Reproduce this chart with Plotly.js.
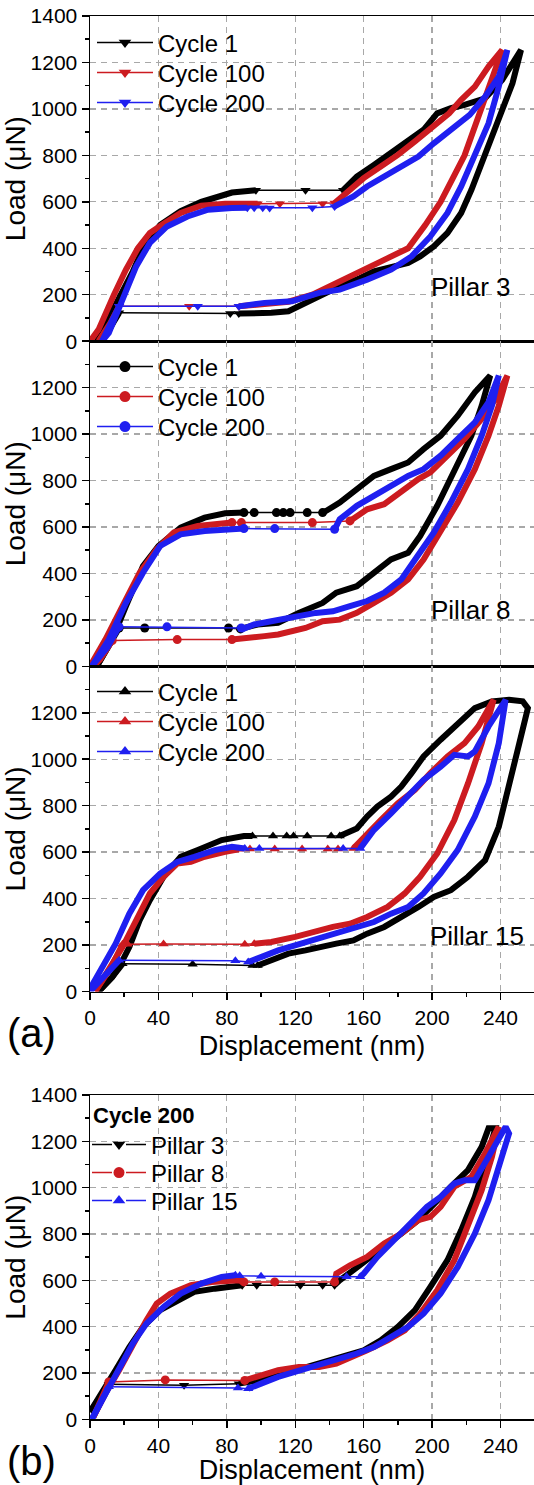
<!DOCTYPE html>
<html><head><meta charset="utf-8">
<script src="https://cdn.plot.ly/plotly-3.0.1.min.js"></script>
<style>html,body{margin:0;padding:0;overflow:hidden;background:#fff}</style>
</head><body><div id="chart" style="width:534px;height:1485px"></div>
<script>
// ---------- DATA ----------
// Panel (a) top: Pillar 3
const p3c1_dense_x = [4,10,18,25,31,41,53,65,83,97, null, 148,156,166,176,186,195,203,211,219,231,241,252,247,241,235,229,223,217,209,201,193,186,176,166,158,146,134,122,116,106,98,87, null, 17,12,6];
const p3c1_dense_y = [0,80,200,300,400,500,560,600,640,650, null, 650,709,759,809,860,910,981,1003,1017,1046,1125,1254,1110,996,867,752,652,552,466,408,365,337,322,301,272,236,193,150,129,122,122,119, null, 122,60,0];
const p3c1_sparse_x = [97,126,148, null, 87,82,17];
const p3c1_sparse_y = [650,650,650, null, 119,119,122];

const p3c100_dense_x = [0,5,14,21,28,35,43,53,65,79,98, null, 143,152,160,170,180,190,201,210,217,225,233,241,236,229,219,212,205,196,186,172,158,144,130,116,105,96,87, null, 17,12,5];
const p3c100_dense_y = [0,50,200,308,400,466,506,552,583,592,592, null, 595,652,702,752,802,860,924,981,1039,1096,1182,1254,1150,1000,800,700,600,500,400,350,300,250,200,170,160,152,150, null, 150,80,0];
const p3c100_sparse_x = [98,111,136,143, null, 87,58,17];
const p3c100_sparse_y = [592,592,592,595, null, 150,150,150];

const p3c200_dense_x = [7,11,19,27,35,45,57,69,83,92, null, 143,154,162,172,182,192,201,211,222,231,239,244,239,233,225,217,209,199,188,176,162,146,134,118,102,87, null, 17,12,7];
const p3c200_dense_y = [0,36,179,322,423,494,537,566,573,575, null, 580,623,666,709,752,795,852,910,974,1053,1139,1254,1096,938,795,666,552,451,365,308,265,222,208,172,165,150, null, 150,80,0];
const p3c200_sparse_x = [92,96,101,105,130,143, null, 87,63,17];
const p3c200_sparse_y = [575,575,575,573,575,580, null, 150,150,150];

// Panel (a) middle: Pillar 8
const p8c1_dense_x = [4,13,21,31,40,53,67,79,90, null, 136,138,146,156,166,176,186,195,205,215,225,234,229,223,213,203,193,186,176,166,156,144,136,122,110,98,88, null, 17,10,4];
const p8c1_dense_y = [0,115,259,432,518,597,640,659,662, null, 662,669,705,763,820,849,878,935,993,1079,1180,1252,1122,993,835,691,561,489,460,403,345,317,273,230,187,180,161, null, 165,80,0];
const p8c1_sparse_x = [90,96,109,113,117,127,136, null, 88,81,32,17];
const p8c1_sparse_y = [662,662,662,662,662,662,662, null, 161,165,165,165];

const p8c100_dense_x = [0,9,19,29,39,49,63,75,83, null, 152,162,172,182,192,199,209,219,229,237,244,239,233,225,215,205,195,186,176,166,156,146,136,126,110,102,83, null, 13,6,2];
const p8c100_dense_y = [0,115,259,403,504,576,604,616,619, null, 626,676,698,755,806,835,907,979,1065,1151,1252,1122,993,849,705,576,460,374,317,273,230,201,194,165,137,130,115, null, 111,30,0];
const p8c100_sparse_x = [83,88.5,130,152, null, 83,51,13];
const p8c100_sparse_y = [619,619,619,626, null, 115,115,111];

const p8c200_dense_x = [1,11,21,31,41,53,67,83,90, null, 143,146,156,166,176,186,195,205,215,225,233,239,235,229,221,211,201,192,182,172,162,152,142,132,120,106,96,88.5, null, 17,10,1];
const p8c200_dense_y = [0,115,273,403,518,568,583,590,593, null, 590,633,691,734,777,820,849,907,979,1050,1137,1252,1122,993,849,705,576,475,374,317,281,259,237,230,216,194,180,158, null, 170,80,0];
const p8c200_sparse_x = [90,108,143, null, 88.5,45,17];
const p8c200_sparse_y = [593,593,590, null, 165,170,170];

// Panel (a) bottom: Pillar 15
const p15c1_dense_x = [5,13,18,23,29,35,43,53,63,77,90,95, null, 146,156,162,168,176,182,188,195,205,215,225,235,245,253,256,251,245,239,231,221,211,201,192,182,172,162,154,144,136,126,116,106,98, null, 19,13,5];
const p15c1_dense_y = [0,62,119,191,306,393,494,580,609,652,669,669, null, 669,702,753,796,839,882,940,1012,1084,1156,1220,1249,1256,1249,1220,1069,882,709,565,494,436,407,364,321,278,249,220,206,191,177,163,134,112, null, 119,62,0];
const p15c1_sparse_x = [95,107,115,119,127,141,146, null, 98,95,60,19];
const p15c1_sparse_y = [669,669,669,669,669,669,669, null, 112,112,117,119];

const p15c100_dense_x = [3,11,19,27,35,43,51,59,67,79,87, null, 154,162,170,180,190,199,209,219,227,236,229,221,213,203,193,184,174,162,152,142,132,120,106,96, null, 19,12,3];
const p15c100_dense_y = [0,91,191,306,422,494,551,558,580,601,612, null, 616,681,738,810,868,940,1012,1069,1141,1256,1069,896,738,594,494,422,364,321,292,278,256,235,213,206, null, 203,100,0];
const p15c100_sparse_x = [87,93.5,108,124,139,145,154, null, 96,90.5,43,22,19];
const p15c100_sparse_y = [612,614,614,614,614,614,616, null, 206,203,205,203,203];

const p15c200_dense_x = [0,7,15,23,31,41,51,61,73,83,90.5, null, 158,166,176,186,195,205,213,221,225,233,243,239,233,225,215,205,195,186,176,166,156,146,136,122,110,100,92.5, null, 17,8,0];
const p15c200_dense_y = [12,105,206,335,436,508,558,580,609,623,616, null, 616,695,767,839,911,968,1019,1012,1033,1141,1256,1069,896,753,609,508,422,364,335,299,278,256,235,206,177,148,127, null, 134,60,0];
const p15c200_sparse_x = [90.5,99,148,158, null, 92.5,85,17];
const p15c200_sparse_y = [616,616,616,616, null, 127,132,134];

// Panel (b): Cycle 200 of each pillar
const b_p3_dense_x = [0,7,15,23,31,41,51,61,73,87,89, null, 143,146,154,162,172,182,192,201,211,221,229,233,237,231,225,217,209,199,190,180,170,160,150,140,126,110,98,87, null, 11,5,0];
const b_p3_dense_y = [32,111,212,312,399,471,514,550,564,579,579, null, 579,600,644,687,744,802,860,932,1004,1076,1176,1256,1256,1104,960,816,687,572,471,399,341,298,276,255,219,190,168,154, null, 151,80,32];
const b_p3_sparse_x = [89,97.5,123,136,143, null, 87,55,11];
const b_p3_sparse_y = [579,579,579,579,579, null, 154,147,151];

const b_p8_dense_x = [2,9,17,25,33,39,47,59,71,87,90, null, 143,144,152,162,172,182,192,199,205,213,223,231,239,235,229,221,213,203,193,184,174,162,152,144,134,122,110,100,90.5, null, 11,6,2];
const b_p8_dense_y = [10,111,212,327,428,500,543,579,593,600,593, null, 593,629,665,701,759,802,860,874,917,1004,1047,1148,1263,1133,989,831,687,557,456,384,341,298,262,240,226,226,212,190,168, null, 161,80,10];
const b_p8_sparse_x = [90,108,143, null, 90.5,44,11];
const b_p8_sparse_y = [593,593,593, null, 168,170,161];

const b_p15_dense_x = [1,9,17,25,33,43,53,65,77,85, null, 158,160,168,178,188,197,205,213,219,225,233,243,245,239,233,225,215,205,195,186,176,166,156,146,134,122,110,100,92.5, null, 11,5,1];
const b_p15_dense_y = [0,111,226,327,413,485,543,586,615,622, null, 615,629,701,773,845,917,960,1018,1032,1032,1133,1263,1234,1090,946,802,658,543,456,399,356,312,284,262,240,212,183,154,132, null, 140,60,0];
const b_p15_sparse_x = [85,87.5,100,150,158, null, 92.5,86.5,11];
const b_p15_sparse_y = [622,620,618,615,615, null, 132,135,140];

const cycleNames = ['Cycle 1', 'Cycle 100', 'Cycle 200'];
const pillarNames = ['Pillar 3', 'Pillar 8', 'Pillar 15'];
const xTickVals = [0, 40, 80, 120, 160, 200, 240];
const yTickValsFull = [0, 200, 400, 600, 800, 1000, 1200, 1400];
const yTickValsShort = [0, 200, 400, 600, 800, 1000, 1200];

// ---------- STYLE ----------
const FONT = 'Liberation Sans, Arial, Helvetica, sans-serif';
const BLACK = '#000000', RED = '#cc1b20', BLUE = '#1f1ff0';
const colors = [BLACK, RED, BLUE];

const H = 1485, W = 534, L = 90;
const pxToPaperY = px => 1 - px / H;
const pxToPaperX = px => (px - L) / (W - L);

const traces = [];
function addCurve(dx, dy, sx, sy, color, symbol, ax) {
  traces.push({x: dx, y: dy, type: 'scatter', mode: 'lines', xaxis: 'x' + ax, yaxis: 'y' + ax,
    line: {color: color, width: 6}, connectgaps: false, showlegend: false, hoverinfo: 'skip'});
  traces.push({x: sx, y: sy, type: 'scatter', mode: 'lines+markers', xaxis: 'x' + ax, yaxis: 'y' + ax,
    line: {color: color, width: 1.5}, marker: {color: color, size: 9, symbol: symbol},
    connectgaps: false, showlegend: false, hoverinfo: 'skip'});
}

const layoutLegends = {};
let legendCount = 0;
function addLegend(name, color, symbol, ax, leftPx, centerPx, itemW, dash) {
  legendCount += 1;
  const id = legendCount === 1 ? 'legend' : 'legend' + legendCount;
  traces.push({x: [null], y: [null], type: 'scatter', mode: 'lines+markers', xaxis: 'x' + ax, yaxis: 'y' + ax,
    name: name, legend: id, line: {color: color, width: 1.5, dash: dash || 'solid'},
    marker: {color: color, size: 11, symbol: symbol}, showlegend: true});
  layoutLegends[id] = {
    x: pxToPaperX(leftPx), xanchor: 'left', y: pxToPaperY(centerPx), yanchor: 'middle',
    bgcolor: 'rgba(0,0,0,0)', borderwidth: 0, itemwidth: itemW,
    font: {family: FONT, size: 24, color: '#000'}, itemclick: false, itemdoubleclick: false
  };
}

const panels = [
  [[p3c1_dense_x, p3c1_dense_y, p3c1_sparse_x, p3c1_sparse_y],
   [p3c100_dense_x, p3c100_dense_y, p3c100_sparse_x, p3c100_sparse_y],
   [p3c200_dense_x, p3c200_dense_y, p3c200_sparse_x, p3c200_sparse_y]],
  [[p8c1_dense_x, p8c1_dense_y, p8c1_sparse_x, p8c1_sparse_y],
   [p8c100_dense_x, p8c100_dense_y, p8c100_sparse_x, p8c100_sparse_y],
   [p8c200_dense_x, p8c200_dense_y, p8c200_sparse_x, p8c200_sparse_y]],
  [[p15c1_dense_x, p15c1_dense_y, p15c1_sparse_x, p15c1_sparse_y],
   [p15c100_dense_x, p15c100_dense_y, p15c100_sparse_x, p15c100_sparse_y],
   [p15c200_dense_x, p15c200_dense_y, p15c200_sparse_x, p15c200_sparse_y]],
  [[b_p3_dense_x, b_p3_dense_y, b_p3_sparse_x, b_p3_sparse_y],
   [b_p8_dense_x, b_p8_dense_y, b_p8_sparse_x, b_p8_sparse_y],
   [b_p15_dense_x, b_p15_dense_y, b_p15_sparse_x, b_p15_sparse_y]]
];
const panelSymbols = [
  ['triangle-down', 'triangle-down', 'triangle-down'],
  ['circle', 'circle', 'circle'],
  ['triangle-up', 'triangle-up', 'triangle-up'],
  ['triangle-down', 'circle', 'triangle-up']
];
// legend row centres (px) for each panel
const legendRows = [[43, 73, 103], [367, 397, 427], [692, 722, 752], [1145, 1173, 1201]];

panels.forEach((curves, p) => {
  const ax = p === 0 ? '' : String(p + 1);
  curves.forEach((c, i) => addCurve(c[0], c[1], c[2], c[3], colors[i], panelSymbols[p][i], ax));
  const names = p < 3 ? cycleNames : pillarNames;
  names.forEach((n, i) => {
    if (p < 3) addLegend(n, colors[i], panelSymbols[p][i], ax, 92, legendRows[p][i], 56, 'solid');
    else addLegend(n, colors[i], panelSymbols[p][i], ax, 87, legendRows[p][i], 54, '20px,14px');
  });
});

// ---------- LAYOUT ----------
const xRange = [0, (W - L) / 1.7104];
const panelPx = [[16, 341.2], [341.2, 666.3], [666.3, 991.5], [1095, 1419.3]];

function xAxis(p, showLabels) {
  const a = {
    range: xRange, domain: [0, 1], anchor: 'y' + (p === 0 ? '' : p + 1),
    showline: true, linecolor: '#000', linewidth: 1.5, mirror: true,
    showgrid: true, gridcolor: '#a8a8a8', gridwidth: 1.3, griddash: '6px,5px',
    zeroline: false, tickvals: xTickVals, fixedrange: true,
    tickfont: {family: FONT, size: 21, color: '#000'}
  };
  if (showLabels) {
    Object.assign(a, {ticks: 'outside', ticklen: 7, tickwidth: 1.5, tickcolor: '#000', showticklabels: true,
      minor: {dtick: 20, tick0: 0, ticks: 'outside', ticklen: 4, tickwidth: 1.5, tickcolor: '#000', showgrid: false},
      title: {text: 'Displacement (nm)', font: {family: FONT, size: 27, color: '#000'}, standoff: 8}});
  } else {
    Object.assign(a, {ticks: '', showticklabels: false});
  }
  return a;
}
function yAxis(p, vals) {
  return {
    range: [0, 1400], domain: [pxToPaperY(panelPx[p][1]), pxToPaperY(panelPx[p][0])],
    anchor: 'x' + (p === 0 ? '' : p + 1),
    showline: true, linecolor: '#000', linewidth: 1.5, mirror: false,
    showgrid: true, gridcolor: '#a8a8a8', gridwidth: 1.3, griddash: '6px,5px',
    zeroline: false, tickvals: vals, fixedrange: true,
    ticks: 'outside', ticklen: 7, tickwidth: 1.5, tickcolor: '#000',
    minor: {dtick: 100, tick0: 0, ticks: 'outside', ticklen: 4, tickwidth: 1.5, tickcolor: '#000', showgrid: false},
    tickfont: {family: FONT, size: 21, color: '#000'},
    title: {text: 'Load (\u03bcN)', font: {family: FONT, size: 28, color: '#000'}, standoff: 2}
  };
}

const annFont = (s, bold) => ({family: FONT, size: s, color: '#000', weight: bold ? 'bold' : 'normal'});
const layout = Object.assign({
  width: W, height: H, margin: {l: L, r: 0, t: 0, b: 0}, paper_bgcolor: '#fff', plot_bgcolor: '#fff',
  showlegend: true, font: {family: FONT, color: '#000'},
  xaxis: xAxis(0, false), xaxis2: xAxis(1, false), xaxis3: xAxis(2, true), xaxis4: xAxis(3, true),
  yaxis: yAxis(0, yTickValsFull), yaxis2: yAxis(1, yTickValsShort), yaxis3: yAxis(2, yTickValsShort), yaxis4: yAxis(3, yTickValsFull),
  annotations: [
    {text: 'Pillar 3', xref: 'x', yref: 'y', x: 247, y: 233, xanchor: 'right', yanchor: 'middle', showarrow: false, font: annFont(26)},
    {text: 'Pillar 8', xref: 'x2', yref: 'y2', x: 247, y: 242, xanchor: 'right', yanchor: 'middle', showarrow: false, font: annFont(26)},
    {text: 'Pillar 15', xref: 'x3', yref: 'y3', x: 255, y: 237, xanchor: 'right', yanchor: 'middle', showarrow: false, font: annFont(26)},
    {text: '<b>Cycle 200</b>', xref: 'paper', yref: 'paper', x: pxToPaperX(91), y: pxToPaperY(1115), xanchor: 'left', yanchor: 'middle', showarrow: false, font: annFont(22)},
    {text: '(a)', xref: 'paper', yref: 'paper', x: pxToPaperX(5), y: pxToPaperY(1033), xanchor: 'left', yanchor: 'middle', showarrow: false, font: annFont(40)},
    {text: '(b)', xref: 'paper', yref: 'paper', x: pxToPaperX(5), y: pxToPaperY(1461), xanchor: 'left', yanchor: 'middle', showarrow: false, font: annFont(40)}
  ]
}, layoutLegends);

Plotly.newPlot('chart', traces, layout, {staticPlot: true, displayModeBar: false});
</script></body></html>
